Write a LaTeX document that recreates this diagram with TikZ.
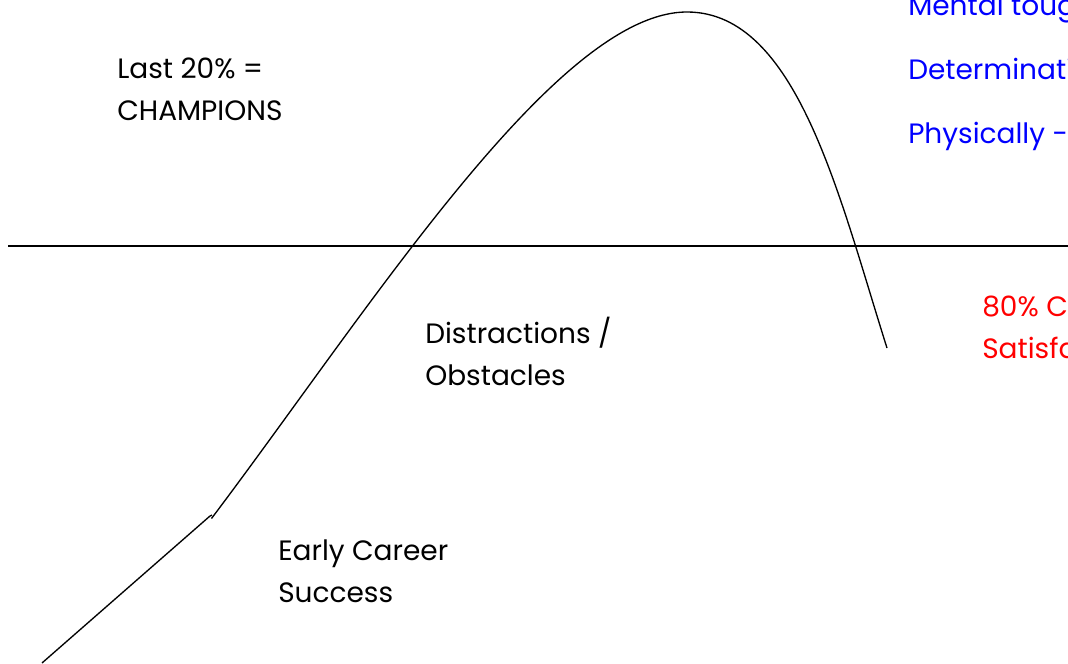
\documentclass[tikz,border=0pt]{standalone}
\usepackage{fontspec}
\setmainfont{Poppins}
\tikzset{
  lbl/.style={anchor=base west, inner sep=0pt, align=left,
    font=\fontsize{21}{31}\selectfont},
  curve/.style={line width=1pt, black}
}
\begin{document}
\begin{tikzpicture}[x=0.75pt,y=-0.75pt]
    \useasboundingbox (0,0) rectangle (1068,664);
    \clip (0,0) rectangle (1068,664);

    % axis
    \path[coordinate] (8,246) coordinate(L) (1068,246) coordinate(R);
    \draw[curve] (L) -- (R);

    % career curve
    \path[coordinate] (42,663)  coordinate(A)
                (210,516) coordinate(B)
                (212,515) coordinate(K)
                (211.5,518.5) coordinate(C)
                (687,12)  coordinate(P)
                (887,348) coordinate(E);
    \draw[curve] (A) -- (B) -- (K);
    \draw[curve] (C) .. controls (371,307) and (557,12) .. (P)
                     .. controls (797,12) and (839,196.5) .. (E);

    % labels (anchored at last baseline)
    \node[lbl] (champ) at (117,120) {Last 20\% =\\CHAMPIONS};
    \node[lbl] (distract) at (425,385) {Distractions /\\Obstacles};
    \node[lbl] (early) at (278,602) {Early Career\\Success};

    \node[lbl,blue] (mental) at (908,15) {Mental toughness};
    \node[lbl,blue] (determ) at (908,79) {Determination};
    \node[lbl,blue] (phys) at (908,143) {Physically - Strong};

    \node[lbl,red] (content) at (982,358) {80\% Content /\\Satisfaction};
\end{tikzpicture}
\end{document}
